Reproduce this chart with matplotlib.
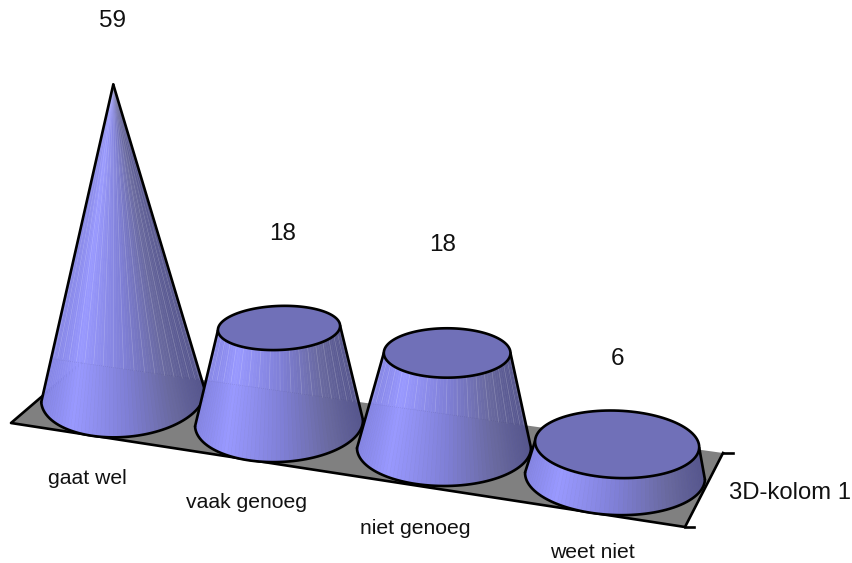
import matplotlib
matplotlib.use('Agg')
import matplotlib.pyplot as plt
from matplotlib.collections import LineCollection
from matplotlib.colors import LinearSegmentedColormap
from matplotlib.patches import Polygon
import numpy as np

# chart data
categories = ['gaat wel', 'vaak genoeg', 'niet genoeg', 'weet niet']
values = [59, 18, 18, 6]
series_name = '3D-kolom 1'

# fake 3D geometry, in pixels of the picture
base_x = [123, 279, 444, 615]
base_y = [396, 423, 448, 476]
base_rx = [82, 84, 87, 90]
base_ry = [41, 39, 38, 39]
top_ratio = [0.36, 0.36, 0.39, 0.41]
px_per_unit = 5.28
floor_pts = [(11, 423), (81, 363), (723, 453), (685, 527)]

value_label_pos = [(113, 21), (283, 234), (443, 245), (617, 359)]
cat_label_pos = [(87, 478), (247, 502), (415, 528), (592, 553)]

plt.rcParams['font.family'] = ['Liberation Sans', 'DejaVu Sans']

fig = plt.figure(figsize=(8.52, 5.63), dpi=100)
ax = fig.add_axes([0, 0, 1, 1])
ax.set_xlim(0, 852)
ax.set_ylim(563, 0)
ax.axis('off')

shade = LinearSegmentedColormap.from_list(
    'shade', [(0, '#8686e6'), (0.16, '#9999ff'), (0.5, '#7f7fd6'), (0.8, '#69699f'), (1, '#56568e')])
LW = 1.9


def ellipse(cx, cy, rx, ry, t):
    tilt = np.radians(0.0135 * (cx - 445))
    x = rx * np.cos(t)
    y = ry * np.sin(t)
    return cx + x * np.cos(tilt) - y * np.sin(tilt), cy + x * np.sin(tilt) + y * np.cos(tilt)


# floor
ax.add_patch(Polygon(floor_pts, closed=True, fc='#808080', ec='none', zorder=1))
fx = [p[0] for p in floor_pts]
fy = [p[1] for p in floor_pts]
ax.plot([fx[1], fx[0], fx[3], fx[2]], [fy[1], fy[0], fy[3], fy[2]], color='black', lw=LW, zorder=2)
ax.plot([fx[3], fx[3] + 9], [fy[3], fy[3]], color='black', lw=LW, zorder=2)
ax.plot([fx[2], fx[2] + 10], [fy[2], fy[2]], color='black', lw=LW, zorder=2)

vmax = max(values)
back_slope = (fy[2] - fy[1]) / (fx[2] - fx[1])

for i, v in enumerate(values):
    z = 3 + i
    h = v * px_per_unit
    cx, cy, rx, ry = base_x[i], base_y[i], base_rx[i], base_ry[i]
    # perspective: tops lean away from the middle and grow a bit
    tx = cx + (cx - 279) * 2e-4 * h
    ty = cy - h
    grow = 1 + h * 5e-4
    trx = rx * (1 - v / vmax) * grow
    tr_y = trx * top_ratio[i]

    t = np.linspace(np.pi, 0, 61)
    bx, by = ellipse(cx, cy, rx, ry, t)
    ux, uy = ellipse(tx, ty, trx, tr_y, t)

    # side facets, bright on the left and dark on the right
    for k in range(len(t) - 1):
        quad = [(bx[k], by[k]), (bx[k + 1], by[k + 1]), (ux[k + 1], uy[k + 1]), (ux[k], uy[k])]
        c = shade((1 + np.cos(t[k])) / 2)
        ax.add_patch(Polygon(quad, closed=True, fc=c, ec=c, lw=0.4, zorder=z))

    # faint light seams, only above the floor's back edge
    segs = []
    for k in range(3, len(t) - 3, 3):
        y_back = fy[1] + back_slope * (bx[k] - fx[1])
        s = (by[k] - y_back) / (by[k] - uy[k]) if by[k] != uy[k] else 1
        s = min(max(s, 0), 1)
        segs.append([(bx[k] + (ux[k] - bx[k]) * s, by[k] + (uy[k] - by[k]) * s), (ux[k], uy[k])])
    ax.add_collection(LineCollection(segs, colors='white', linewidths=0.5, alpha=0.18, zorder=z))

    # back edge of the floor shines through faintly
    xs = np.array([bx.min() + 2, bx.max() - 2])
    ys = fy[1] + back_slope * (xs - fx[1])
    line = ax.plot(xs, ys, color='#303050', lw=0.5, alpha=0.2, ls=(0, (1, 2)), zorder=z)[0]
    clip = Polygon(list(zip(bx, by)) + list(zip(ux[::-1], uy[::-1])), closed=True,
                   transform=ax.transData, fc='none', ec='none')
    ax.add_patch(clip)
    line.set_clip_path(clip)

    # outlines
    ax.plot(bx, by, color='black', lw=LW, zorder=z, solid_capstyle='round')
    ax.plot([bx[0], ux[0]], [by[0], uy[0]], color='black', lw=LW, zorder=z, solid_capstyle='round')
    ax.plot([bx[-1], ux[-1]], [by[-1], uy[-1]], color='black', lw=LW, zorder=z, solid_capstyle='round')
    if trx > 0:
        tt = np.linspace(0, 2 * np.pi, 121)
        ex, ey = ellipse(tx, ty, trx, tr_y, tt)
        ax.add_patch(Polygon(np.column_stack([ex, ey]), closed=True, fc='#7070b8', ec='black', lw=LW, zorder=z))

for v, (x, y) in zip(values, value_label_pos):
    ax.text(x, y, str(v), fontsize=17.5, ha='center', va='center', color='#111111', zorder=10)
for name, (x, y) in zip(categories, cat_label_pos):
    ax.text(x, y, name, fontsize=15.2, ha='center', va='center', color='#111111', zorder=10)
ax.text(790, 493, series_name, fontsize=17.2, ha='center', va='center', color='#111111', zorder=10)

fig.savefig('out.png', dpi=100)
